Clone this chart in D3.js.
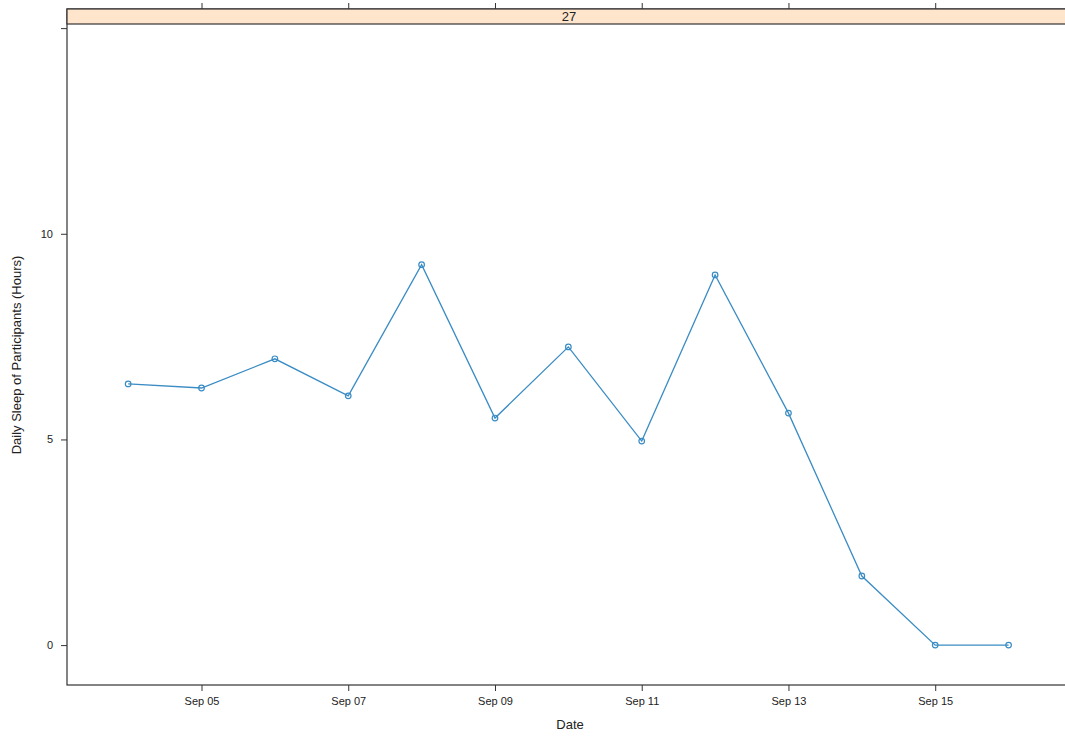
<!DOCTYPE html>
<html><head><meta charset="utf-8">
<script src="https://cdn.jsdelivr.net/npm/d3@7"></script>
<style>body{margin:0;background:#fff;}svg{display:block;font-family:"Liberation Sans",Arial,sans-serif;}</style>
</head><body>
<svg id="c" width="1065" height="736"></svg>
<script>
const dates = ["2017-09-04","2017-09-05","2017-09-06","2017-09-07","2017-09-08","2017-09-09","2017-09-10","2017-09-11","2017-09-12","2017-09-13","2017-09-14","2017-09-15","2017-09-16"];
const sleepHours = [6.35,6.25,6.96,6.06,9.25,5.52,7.25,4.96,9.0,5.64,1.68,0,0];
const yTicks = [0,5,10,15];
const yTickLabels = ["0","5","10",""];
const xTickDates = ["2017-09-05","2017-09-07","2017-09-09","2017-09-11","2017-09-13","2017-09-15"];
const xTickLabels = ["Sep 05","Sep 07","Sep 09","Sep 11","Sep 13","Sep 15"];
const stripLabel = "27";

const parse = d3.utcParse("%Y-%m-%d");
const svg = d3.select("#c");
const pLeft = 67, pRight = 1085, pTop = 9, stripH = 15, pBottom = 685;
const lineCol = "#3a8cc4";

const x = d3.scaleUtc()
  .domain([d3.utcHour.offset(parse("2017-09-04"), -19.9), d3.utcHour.offset(parse("2017-09-17"), 1.1)])
  .range([pLeft, pRight]);
const y = d3.scaleLinear().domain([-0.97, 15.1]).range([pBottom, pTop + stripH]);

// panel
svg.append("rect").attr("x", pLeft).attr("y", pTop).attr("width", pRight - pLeft).attr("height", pBottom - pTop)
  .attr("fill", "none").attr("stroke", "#333").attr("stroke-width", 1.2);
// strip
svg.append("rect").attr("x", pLeft).attr("y", pTop).attr("width", pRight - pLeft).attr("height", stripH)
  .attr("fill", "#ffe5cc").attr("stroke", "#333").attr("stroke-width", 1.2);
svg.append("text").attr("x", 569).attr("y", pTop + stripH - 3).attr("text-anchor", "middle")
  .attr("font-size", 13).attr("fill", "#222").text(stripLabel);

// bottom axis
const xb = d3.axisBottom(x).tickValues(xTickDates.map(parse)).tickSize(6).tickPadding(6)
  .tickFormat((d, i) => xTickLabels[i]);
const gxb = svg.append("g").attr("transform", `translate(0,${pBottom})`).call(xb);
gxb.select(".domain").remove();
gxb.selectAll("line").attr("stroke", "#333");
gxb.selectAll("text").attr("font-size", 11).attr("fill", "#222").attr("font-family", "Liberation Sans, Arial, sans-serif");

// top ticks (no labels)
const xt = d3.axisTop(x).tickValues(xTickDates.map(parse)).tickSize(6).tickFormat("");
const gxt = svg.append("g").attr("transform", `translate(0,${pTop})`).call(xt);
gxt.select(".domain").remove();
gxt.selectAll("line").attr("stroke", "#333");

// left axis
const yl = d3.axisLeft(y).tickValues(yTicks).tickSize(6).tickPadding(8)
  .tickFormat((d, i) => yTickLabels[i]);
const gyl = svg.append("g").attr("transform", `translate(${pLeft},0)`).call(yl);
gyl.select(".domain").remove();
gyl.selectAll("line").attr("stroke", "#333");
gyl.selectAll("text").attr("font-size", 11).attr("fill", "#222").attr("font-family", "Liberation Sans, Arial, sans-serif");

// titles
svg.append("text").attr("x", 570).attr("y", 729).attr("text-anchor", "middle")
  .attr("font-size", 13).attr("fill", "#222").text("Date");
svg.append("text").attr("transform", "translate(21,355) rotate(-90)").attr("text-anchor", "middle")
  .attr("font-size", 13).attr("fill", "#222").text("Daily Sleep of Participants (Hours)");

// data
const data = dates.map((d, i) => ({date: parse(d), v: sleepHours[i]}));
svg.append("path").datum(data)
  .attr("d", d3.line().x(d => x(d.date)).y(d => y(d.v)))
  .attr("fill", "none").attr("stroke", lineCol).attr("stroke-width", 1.3);
svg.selectAll("circle.pt").data(data).enter().append("circle").attr("class", "pt")
  .attr("cx", d => x(d.date)).attr("cy", d => y(d.v)).attr("r", 2.8)
  .attr("fill", "none").attr("stroke", lineCol).attr("stroke-width", 1.2);
</script>
</body></html>
